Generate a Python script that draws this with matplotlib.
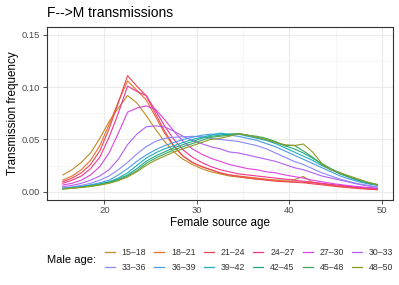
import matplotlib
matplotlib.use("Agg")
import matplotlib.pyplot as plt
from matplotlib.lines import Line2D
from matplotlib.ticker import MultipleLocator, FormatStrFormatter

plt.rcParams['font.family'] = ['Liberation Sans', 'DejaVu Sans']

# female source age (bin midpoints)
ages = [15.5 + i for i in range(35)]

groups = ['15–18', '18–21', '21–24', '24–27', '27–30', '30–33',
          '33–36', '36–39', '39–42', '42–45', '45–48', '48–50']

colors = ['#C08B22', '#E8702E', '#EE4455', '#F0358F', '#DD44DD', '#B060F5',
          '#8A88FF', '#4A9BE5', '#1DAFC0', '#1FAA8A', '#3DA85A', '#8F9A25']

m15_18 = [0.016, 0.021, 0.028, 0.037, 0.051, 0.067, 0.080, 0.092, 0.085, 0.073, 0.060, 0.048,
          0.038, 0.031, 0.026, 0.022, 0.019, 0.017, 0.015, 0.014, 0.013, 0.012, 0.0115, 0.011,
          0.011, 0.0115, 0.0145, 0.009, 0.0075, 0.0062, 0.0052, 0.0043, 0.0035, 0.0027, 0.002]
m18_21 = [0.011, 0.015, 0.021, 0.030, 0.044, 0.064, 0.086, 0.106, 0.097, 0.088, 0.072, 0.056,
          0.043, 0.034, 0.028, 0.024, 0.021, 0.018, 0.016, 0.015, 0.014, 0.013, 0.012, 0.011,
          0.010, 0.0095, 0.009, 0.0085, 0.0075, 0.0065, 0.0055, 0.0045, 0.0037, 0.003, 0.0024]
m21_24 = [0.0095, 0.013, 0.018, 0.026, 0.039, 0.060, 0.085, 0.111, 0.101, 0.092, 0.075, 0.058,
          0.044, 0.034, 0.028, 0.024, 0.021, 0.018, 0.016, 0.0145, 0.013, 0.012, 0.011, 0.010,
          0.0095, 0.009, 0.0085, 0.0075, 0.0065, 0.0055, 0.0045, 0.0037, 0.003, 0.0024, 0.0018]
m24_27 = [0.008, 0.011, 0.015, 0.022, 0.033, 0.052, 0.075, 0.101, 0.096, 0.092, 0.078, 0.063,
          0.050, 0.040, 0.033, 0.028, 0.024, 0.021, 0.019, 0.017, 0.016, 0.015, 0.014, 0.013,
          0.012, 0.011, 0.010, 0.009, 0.008, 0.007, 0.006, 0.005, 0.0042, 0.0035, 0.0028]
m27_30 = [0.0064, 0.008, 0.011, 0.016, 0.024, 0.037, 0.056, 0.076, 0.080, 0.082, 0.079, 0.069,
          0.058, 0.048, 0.041, 0.036, 0.032, 0.029, 0.026, 0.024, 0.022, 0.021, 0.019, 0.018,
          0.016, 0.0145, 0.013, 0.011, 0.0095, 0.008, 0.0068, 0.0057, 0.0048, 0.004, 0.0033]
m30_33 = [0.0048, 0.006, 0.008, 0.011, 0.015, 0.021, 0.031, 0.045, 0.055, 0.062, 0.063, 0.062,
          0.058, 0.053, 0.049, 0.046, 0.043, 0.041, 0.038, 0.037, 0.035, 0.033, 0.031, 0.029,
          0.026, 0.023, 0.021, 0.018, 0.015, 0.013, 0.011, 0.009, 0.007, 0.0055, 0.0042]
m33_36 = [0.0035, 0.0045, 0.006, 0.008, 0.011, 0.015, 0.021, 0.028, 0.036, 0.043, 0.048, 0.051,
          0.052, 0.0525, 0.053, 0.0525, 0.051, 0.050, 0.049, 0.048, 0.046, 0.044, 0.041, 0.037,
          0.033, 0.029, 0.026, 0.022, 0.018, 0.015, 0.012, 0.0095, 0.0075, 0.006, 0.0045]
m36_39 = [0.0032, 0.004, 0.005, 0.0065, 0.0085, 0.011, 0.016, 0.022, 0.029, 0.035, 0.040, 0.044,
          0.047, 0.050, 0.052, 0.054, 0.055, 0.055, 0.054, 0.053, 0.051, 0.049, 0.046, 0.043,
          0.039, 0.035, 0.031, 0.027, 0.023, 0.019, 0.015, 0.012, 0.0095, 0.0075, 0.006]
m39_42 = [0.003, 0.0037, 0.0047, 0.006, 0.0075, 0.0095, 0.013, 0.018, 0.025, 0.032, 0.037, 0.041,
          0.044, 0.047, 0.050, 0.052, 0.054, 0.056, 0.055, 0.055, 0.053, 0.051, 0.049, 0.046,
          0.042, 0.038, 0.034, 0.030, 0.025, 0.021, 0.017, 0.0135, 0.0105, 0.008, 0.0065]
m42_45 = [0.0028, 0.0035, 0.0044, 0.0056, 0.007, 0.009, 0.012, 0.016, 0.022, 0.029, 0.034, 0.038,
          0.042, 0.045, 0.048, 0.051, 0.053, 0.054, 0.055, 0.0555, 0.054, 0.052, 0.050, 0.047,
          0.044, 0.041, 0.037, 0.032, 0.027, 0.022, 0.018, 0.014, 0.011, 0.0085, 0.0065]
m45_48 = [0.0027, 0.0034, 0.0042, 0.0053, 0.0067, 0.0085, 0.011, 0.015, 0.020, 0.027, 0.032, 0.036,
          0.040, 0.043, 0.046, 0.049, 0.052, 0.053, 0.054, 0.0555, 0.054, 0.053, 0.051, 0.048,
          0.044, 0.0445, 0.039, 0.033, 0.026, 0.021, 0.017, 0.014, 0.011, 0.0088, 0.007]
m48_50 = [0.0025, 0.0032, 0.004, 0.005, 0.0063, 0.008, 0.0105, 0.014, 0.019, 0.025, 0.030, 0.034,
          0.038, 0.041, 0.044, 0.047, 0.050, 0.051, 0.053, 0.0555, 0.054, 0.052, 0.050, 0.047,
          0.045, 0.044, 0.0456, 0.038, 0.027, 0.021, 0.018, 0.015, 0.012, 0.009, 0.0065]

series = [m15_18, m18_21, m21_24, m24_27, m27_30, m30_33,
          m33_36, m36_39, m39_42, m42_45, m45_48, m48_50]

fig = plt.figure(figsize=(3.99, 2.85), dpi=100)
ax = fig.add_axes([0.118, 0.30, 0.867, 0.605])

for vals, col in zip(series, colors):
    ax.plot(ages, vals, color=col, lw=0.8)

ax.set_xlim(13.8, 51.2)
ax.set_ylim(-0.0075, 0.1575)
ax.xaxis.set_major_locator(MultipleLocator(10))
ax.xaxis.set_minor_locator(MultipleLocator(5))
ax.yaxis.set_major_locator(MultipleLocator(0.05))
ax.yaxis.set_minor_locator(MultipleLocator(0.025))
ax.yaxis.set_major_formatter(FormatStrFormatter('%.2f'))
ax.grid(True, which='major', color='#EBEBEB', lw=0.8)
ax.grid(True, which='minor', color='#F3F3F3', lw=0.5)
ax.set_axisbelow(True)
ax.tick_params(which='major', length=3, width=0.6, color='#333333',
               labelsize=6.8, labelcolor='#4D4D4D', pad=2)
ax.tick_params(which='minor', length=0)
for s in ax.spines.values():
    s.set_color('#333333')
    s.set_linewidth(0.8)

ax.set_xlabel('Female source age', fontsize=8.4, labelpad=1)
ax.set_ylabel('Transmission frequency', fontsize=8.4, labelpad=2)
ax.set_title('F-->M transmissions', fontsize=10, loc='left', pad=7)

# legend in row-wise order, two rows of six
order = [0, 6, 1, 7, 2, 8, 3, 9, 4, 10, 5, 11]
handles = [Line2D([], [], color=colors[i], lw=0.9) for i in order]
labels = [groups[i] for i in order]
fig.legend(handles, labels, ncol=6, loc='center left', bbox_to_anchor=(0.263, 0.0877),
           frameon=False, fontsize=6.3, handlelength=1.14, handletextpad=0.77,
           columnspacing=0.94, labelspacing=0.75, borderpad=0, borderaxespad=0,
           labelcolor='#333333')
fig.text(0.117, 0.0877, 'Male age:', fontsize=8.0, va='center', ha='left')

fig.savefig('out.png', dpi=100)
